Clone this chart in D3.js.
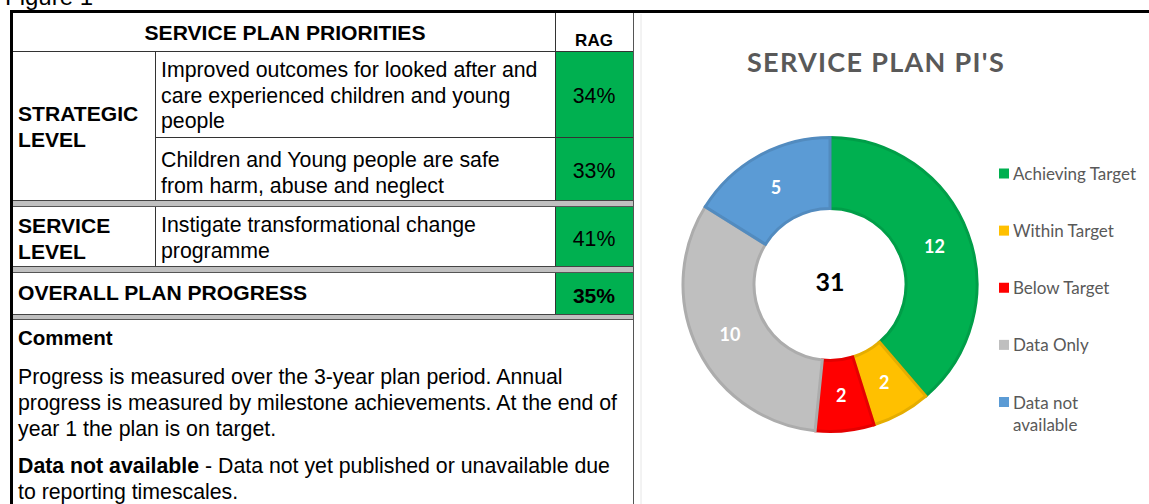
<!DOCTYPE html>
<html><head><meta charset="utf-8">
<script src="https://cdn.jsdelivr.net/npm/d3@7/dist/d3.min.js"></script>
<style>
html,body{margin:0;padding:0;background:#fff;}
svg{display:block;}
</style></head>
<body>
<svg id="c" width="1149" height="504"></svg>
<script>
// ---------- data ----------
const categories = ["Achieving Target","Within Target","Below Target","Data Only","Data not available"];
const values = [12, 2, 2, 10, 5];
const sliceColors = ["#00B050","#FFC000","#FF0000","#BFBFBF","#5B9BD5"];
const chartTitle = "SERVICE PLAN PI'S";

const tableTitle = "SERVICE PLAN PRIORITIES";
const ragHeader = "RAG";
const levels = [["STRATEGIC","LEVEL"],["SERVICE","LEVEL"]];
const priorities = [
  ["Improved outcomes for looked after and","care experienced children and young","people"],
  ["Children and Young people are safe","from harm, abuse and neglect"],
  ["Instigate transformational change","programme"]
];
const ragValues = ["34%","33%","41%"];
const overallLabel = "OVERALL PLAN PROGRESS";
const overallValue = "35%";
const commentTitle = "Comment";
const commentLines = ["Progress is measured over the 3-year plan period. Annual",
  "progress is measured by milestone achievements. At the end of",
  "year 1 the plan is on target."];
const noteBold = "Data not available";
const noteLines = [" - Data not yet published or unavailable due","to reporting timescales."];

// ---------- drawing ----------
const svg = d3.select("#c");
const TF = "'Liberation Sans', Arial, sans-serif";
const CF = "Lato, 'Open Sans', sans-serif";
const REG = 21.3, BOLD = 21.1;

// Figure caption (cut off at top, as in the source)
svg.append("text").attr("x",5).attr("y",5).attr("font-family",TF).attr("font-size",24)
  .attr("fill","#000").text("Figure 1");

// table geometry
const X0 = 13, X1 = 155, X2 = 555, X3 = 633;
const green = "#00B050";
const line = "#333";

// RAG cells
svg.append("rect").attr("x",X2).attr("y",52).attr("width",X3-X2).attr("height",85).attr("fill",green);
svg.append("rect").attr("x",X2).attr("y",138).attr("width",X3-X2).attr("height",62).attr("fill",green);
svg.append("rect").attr("x",X2).attr("y",207).attr("width",X3-X2).attr("height",59).attr("fill",green);
svg.append("rect").attr("x",X2).attr("y",273).attr("width",X3-X2).attr("height",41).attr("fill",green);

function hline(x1,x2,y,c,w){svg.append("line").attr("x1",x1).attr("x2",x2).attr("y1",y).attr("y2",y).attr("stroke",c||line).attr("stroke-width",w||1);}
function vline(x,y1,y2,c,w){svg.append("line").attr("x1",x).attr("x2",x).attr("y1",y1).attr("y2",y2).attr("stroke",c||line).attr("stroke-width",w||1);}

hline(X0,X3,51.5);
hline(X1,X3,137.5);
[[200,207],[266,273],[314,320]].forEach(([a,b])=>{
  svg.append("rect").attr("x",X0).attr("y",a).attr("width",X3-X0).attr("height",b-a).attr("fill","#c0c0c0");
  hline(X0,X3,a+0.5,"#444");
  hline(X0,X3,b-0.5,"#555");
});
vline(X2+0.5,13,51);
vline(X1+0.5,51,200); vline(X2+0.5,51,200);
vline(X1+0.5,207,266); vline(X2+0.5,207,266);
vline(X2+0.5,273,314);
vline(X3+0.5,13,504,"#555");
svg.append("rect").attr("x",10).attr("y",10).attr("width",1139).attr("height",3).attr("fill","#000");
svg.append("rect").attr("x",10).attr("y",10).attr("width",3).attr("height",494).attr("fill","#000");
vline(641,14,504,"#e6e6e6");

function txt(x,y,s,opt){
  opt=opt||{};
  return svg.append("text").attr("x",x).attr("y",y).attr("font-family",opt.f||TF)
    .attr("font-size",opt.s||(opt.b?BOLD:REG)).attr("font-weight",opt.b?"bold":"normal")
    .attr("text-anchor",opt.a||"start").attr("fill",opt.c||"#000").text(s);
}
txt((X0+X2)/2+1,40,tableTitle,{b:1,a:"middle"});
txt((X2+X3)/2,46,ragHeader,{b:1,a:"middle",s:17});

const levelY = [[121,147],[233,259]];
levels.forEach((ls,i)=>ls.forEach((l,j)=>txt(18,levelY[i][j],l,{b:1})));
const prioY = [[77,102.5,128],[167,193],[232,258]];
priorities.forEach((ls,i)=>ls.forEach((l,j)=>txt(161,prioY[i][j],l)));
const ragY = [103,178,246];
ragValues.forEach((v,i)=>txt((X2+X3)/2,ragY[i],v,{a:"middle"}));
txt(18,300,overallLabel,{b:1});
txt((X2+X3)/2,303,overallValue,{b:1,a:"middle"});
txt(18,345,commentTitle,{b:1,s:20.5});
[384,410,436].forEach((y,i)=>txt(18,y,commentLines[i]));
const nt = txt(18,473,"",{});
nt.append("tspan").attr("font-weight","bold").text(noteBold);
nt.append("tspan").text(noteLines[0]);
txt(18,499,noteLines[1]);

// ---------- donut ----------
const cx = 830, cy = 284.5, rIn = 74.5, rOut = 148.5;
const pie = d3.pie().sort(null).value(d=>d)(values);
const arc = d3.arc().innerRadius(rIn).outerRadius(rOut);
const g = svg.append("g").attr("transform",`translate(${cx},${cy})`);
g.selectAll("path.s").data(pie).join("path").attr("class","s")
  .attr("d",d3.arc().innerRadius(rIn+1.5).outerRadius(rOut-1.5))
  .attr("fill",(d,i)=>sliceColors[i])
  .attr("stroke",(d,i)=>d3.color(sliceColors[i]).darker(0.3))
  .attr("stroke-width",3).attr("stroke-linejoin","miter");
g.selectAll("text.l").data(pie).join("text").attr("class","l")
  .attr("transform",d=>`translate(${arc.centroid(d)})`)
  .attr("text-anchor","middle").attr("dominant-baseline","central")
  .attr("font-family",CF).attr("font-weight","bold").attr("font-size",18)
  .attr("fill","#fff").text(d=>d.data);
g.append("text").attr("text-anchor","middle").attr("dominant-baseline","central")
  .attr("y",-4).attr("font-family",CF).attr("font-weight","bold").attr("font-size",25)
  .attr("fill","#000").text(d3.sum(values));

svg.append("text").attr("x",876).attr("y",72).attr("text-anchor","middle")
  .attr("font-family",CF).attr("font-weight","bold").attr("font-size",27)
  .attr("letter-spacing",1.3)
  .attr("fill","#595959").text(chartTitle);

// legend
const ly = d3.scalePoint().domain(categories).range([173.5,402]);
const lg = svg.append("g");
categories.forEach((c,i)=>{
  const y = ly(c);
  lg.append("rect").attr("x",999).attr("y",y-5).attr("width",10).attr("height",10).attr("fill",sliceColors[i]);
  const words = c==="Data not available" ? ["Data not","available"] : [c];
  words.forEach((w,j)=>lg.append("text").attr("x",1013).attr("y",y+j*22)
    .attr("dominant-baseline","central").attr("font-family",CF).attr("font-size",17)
    .attr("fill","#595959").text(w));
});
</script>
</body></html>
